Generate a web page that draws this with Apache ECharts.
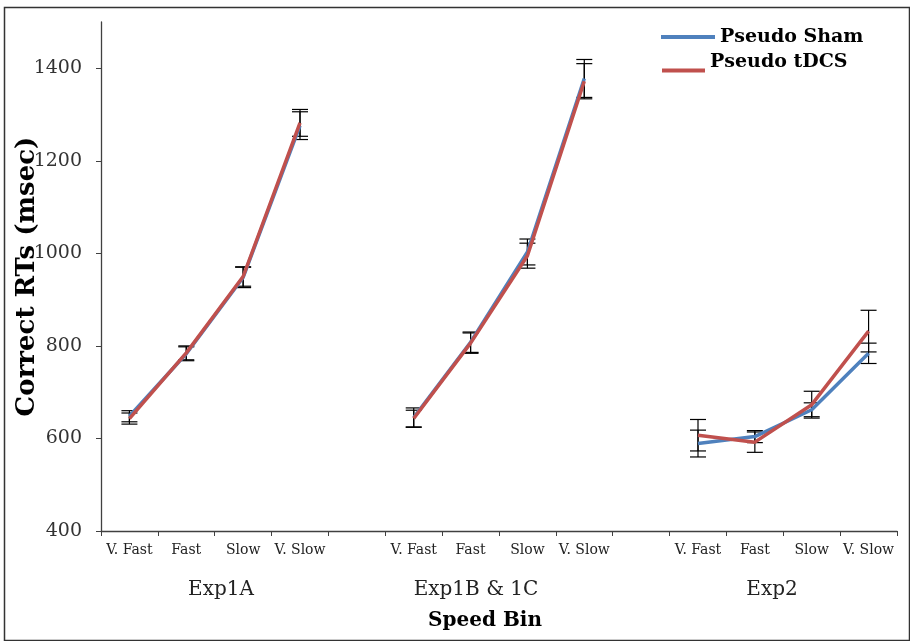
<!DOCTYPE html>
<html>
<head>
<meta charset="utf-8">
<script src="https://cdn.jsdelivr.net/npm/echarts@6/dist/echarts.min.js"></script>
<style>html,body{margin:0;padding:0;background:#fff;}#c{width:910px;height:641px;}</style>
</head>
<body>
<div id="c"></div>
<script>
const categories = ['V. Fast','Fast','Slow','V. Slow','','V. Fast','Fast','Slow','V. Slow','','V. Fast','Fast','Slow','V. Slow'];
const groupLabels = ['Exp1A','Exp1B & 1C','Exp2'];
const yTicks = [400,600,800,1000,1200,1400];
const shamMean = [648,783,948,1276,null,645,808,1003,1378,null,589,604,662,784];
const shamErr  = [12,15,22,30,null,21,22,28,41,null,29,13,15,22];
const tdcsMean = [643,785,950,1282,null,643,806,995,1372,null,607,592,673,832];
const tdcsErr  = [12,15,21,29,null,18,22,27,38,null,34,22,29,45];

const FONT = 'DejaVu Serif';
const chart = echarts.init(document.getElementById('c'), null, {renderer:'canvas'});

function errData(mean, err){
  return mean.map((m,i)=> m==null ? null : [i, m, err[i]]).filter(Boolean);
}
function renderErr(params, api){
  const x = api.value(0), m = api.value(1), e = api.value(2);
  const top = api.coord([x, m + e]);
  const bot = api.coord([x, m - e]);
  const hw = 8;
  const st = {stroke:'#000', lineWidth:1.2};
  return {type:'group', children:[
    {type:'line', shape:{x1:top[0],y1:top[1],x2:bot[0],y2:bot[1]}, style:st},
    {type:'line', shape:{x1:top[0]-hw,y1:top[1],x2:top[0]+hw,y2:top[1]}, style:st},
    {type:'line', shape:{x1:bot[0]-hw,y1:bot[1],x2:bot[0]+hw,y2:bot[1]}, style:st}
  ]};
}

const groupPos = [221, 476, 772];
const legendText = {fontFamily:FONT, fontSize:19, fontWeight:'bold', color:'#000', lineHeight:22};

chart.setOption({
  animation:false,
  backgroundColor:'#fff',
  grid:{left:101, right:13, top:22, bottom:110, containLabel:false, outerBoundsMode:'none'},
  legend:[
    {data:['Pseudo Sham'], left:656, top:21, icon:'rect', itemWidth:54, itemHeight:4, itemGap:0,
     textStyle:legendText},
    {data:['Pseudo tDCS'], left:657, top:48, icon:'rect', itemWidth:43, itemHeight:4, itemGap:0,
     formatter:'{a|{name}}',
     textStyle:Object.assign({}, legendText, {rich:{a:Object.assign({}, legendText, {padding:[0,0,16,0]})}})}
  ],
  xAxis:{
    type:'category', data:categories, boundaryGap:true,
    axisLine:{lineStyle:{color:'#404040', width:1.3}},
    axisTick:{show:true, interval:0, alignWithLabel:false, length:5, lineStyle:{color:'#404040'}},
    axisLabel:{interval:0, margin:12, fontFamily:FONT, fontSize:14, color:'#222'},
    splitLine:{show:false},
    name:'Speed Bin', nameLocation:'middle', nameGap:80, nameMoveOverlap:false,
    nameTextStyle:{fontFamily:FONT, fontSize:20, fontWeight:'bold', color:'#000', padding:[0,28,0,0]}
  },
  yAxis:{
    type:'value', min:400, max:1500, interval:200,
    axisLine:{show:true, lineStyle:{color:'#404040', width:1.3}},
    axisTick:{show:true, length:5, customValues:yTicks, lineStyle:{color:'#404040'}},
    axisLabel:{customValues:yTicks, margin:19, fontFamily:FONT, fontSize:19, color:'#333',
      formatter:(v)=>String(v)},
    splitLine:{show:false},
    name:'Correct RTs (msec)', nameLocation:'middle', nameGap:61, nameRotate:90, nameMoveOverlap:false,
    nameTextStyle:{fontFamily:FONT, fontSize:26, fontWeight:'bold', color:'#000'}
  },
  graphic:[
    {type:'rect', left:2, top:5, shape:{width:905, height:633}, style:{fill:'none', stroke:'#333', lineWidth:1.5}, silent:true, z:-1},
    ...groupLabels.map((g,i)=>({type:'text', x:groupPos[i], y:590, style:{text:g, font:'20px "DejaVu Serif"', fill:'#222', textAlign:'center', textVerticalAlign:'middle'}}))
  ],
  series:[
    {type:'custom', name:'Sham err', renderItem:renderErr, data:errData(shamMean, shamErr), encode:{x:0,y:1}, z:1, silent:true},
    {type:'custom', name:'tDCS err', renderItem:renderErr, data:errData(tdcsMean, tdcsErr), encode:{x:0,y:1}, z:1, silent:true},
    {type:'line', name:'Pseudo Sham', data:shamMean, showSymbol:false, symbol:'none', connectNulls:false,
     lineStyle:{color:'#4F81BD', width:3.5}, itemStyle:{color:'#4F81BD'}, z:3},
    {type:'line', name:'Pseudo tDCS', data:tdcsMean, showSymbol:false, symbol:'none', connectNulls:false,
     lineStyle:{color:'#C0504D', width:3.5}, itemStyle:{color:'#C0504D'}, z:4}
  ]
});
</script>
</body>
</html>
